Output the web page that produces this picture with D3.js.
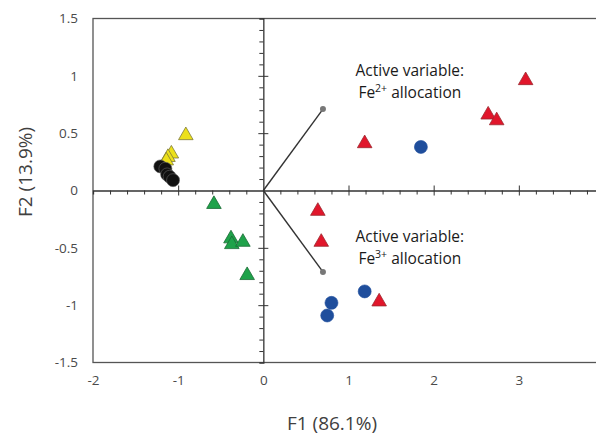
<!DOCTYPE html>
<html>
<head>
<meta charset="utf-8">
<script src="https://cdn.jsdelivr.net/npm/d3@7"></script>
<style>
  body { margin: 0; background: #fff; }
  svg { display: block; font-family: "Open Sans", "Liberation Sans", sans-serif; }
</style>
</head>
<body>
<div id="chart"></div>
<script>
// PCA scores, [F1, F2]
var yellowPts = [[-0.91, 0.48], [-1.08, 0.32], [-1.12, 0.29], [-1.14, 0.26]];
var blackPts = [[-1.21, 0.21], [-1.15, 0.19], [-1.13, 0.14], [-1.10, 0.12], [-1.06, 0.09]];
var greenPts = [[-0.58, -0.12], [-0.38, -0.42], [-0.37, -0.47], [-0.24, -0.45], [-0.19, -0.74]];
var redPts = [[3.08, 0.96], [2.64, 0.66], [2.74, 0.61], [1.19, 0.41], [0.64, -0.18], [0.68, -0.45], [1.36, -0.97]];
var bluePts = [[1.85, 0.38], [1.19, -0.88], [0.80, -0.98], [0.75, -1.09]];

// active variables (loadings)
var vectors = [[0.70, 0.71], [0.70, -0.71]];
var vectorLabels = [["Active variable:", "Fe", "2+", " allocation"], ["Active variable:", "Fe", "3+", " allocation"]];
var labelPos = [[1.72, 1.00], [1.72, -0.45]];

var xTicks = [-2, -1, 0, 1, 2, 3];
var yTicks = [-1.5, -1, -0.5, 0, 0.5, 1, 1.5];

var width = 596,
    height = 441;

var x = d3.scaleLinear().domain([-2, 4]).range([93, 604]);
var y = d3.scaleLinear().domain([-1.5, 1.5]).range([362.5, 18.5]);

var svg = d3.select("#chart").append("svg")
    .attr("width", width)
    .attr("height", height);

// frame
svg.append("rect")
    .attr("x", x(-2)).attr("y", y(1.5))
    .attr("width", x(4) - x(-2)).attr("height", y(-1.5) - y(1.5))
    .attr("fill", "none").attr("stroke", "#555").attr("stroke-width", 1.3);

// outer tick labels (plain hyphen like the original)
var fmt = function (d) { return String(d); };
var bottom = svg.append("g")
    .attr("transform", "translate(0," + y(-1.5) + ")")
    .call(d3.axisBottom(x).tickValues(xTicks).tickSize(0).tickPadding(13).tickFormat(fmt));
var left = svg.append("g")
    .attr("transform", "translate(" + x(-2) + ",0)")
    .call(d3.axisLeft(y).tickValues(yTicks).tickSize(0).tickPadding(15).tickFormat(fmt));
[bottom, left].forEach(function (g) {
    g.select(".domain").remove();
    g.selectAll("text").attr("font-size", 13.5).attr("fill", "#4a4a4a")
        .attr("font-family", "'Open Sans', sans-serif");
});

// zero lines with minor ticks
var zx = svg.append("g").attr("transform", "translate(0," + y(0) + ")");
zx.call(d3.axisBottom(x).tickValues(d3.range(-1.8, 4, 0.2).filter(function (d) { return Math.abs(d - Math.round(d)) > 0.01; }))
    .tickSize(4).tickFormat(""));
zx.append("g").call(d3.axisBottom(x).tickValues([-1, 1, 2, 3]).tickSize(10).tickFormat(""))
    .attr("transform", "translate(0,-5)").select(".domain").remove();

var zy = svg.append("g").attr("transform", "translate(" + x(0) + ",0)");
zy.call(d3.axisLeft(y).tickValues(d3.range(-1.4, 1.5, 0.1).filter(function (d) { return Math.abs(d * 2 - Math.round(d * 2)) > 0.01; }))
    .tickSize(4).tickFormat(""));
zy.append("g").call(d3.axisLeft(y).tickValues([-1, -0.5, 0.5, 1]).tickSize(10).tickFormat(""))
    .attr("transform", "translate(5,0)").select(".domain").remove();

svg.selectAll(".domain").attr("stroke", "#333").attr("stroke-width", 1.3);
zx.selectAll("line").attr("stroke", "#333");
zy.selectAll("line").attr("stroke", "#333");

// loading vectors
svg.selectAll(".vec")
    .data(vectors)
    .enter().append("line")
    .attr("x1", x(0)).attr("y1", y(0))
    .attr("x2", function (d) { return x(d[0]); })
    .attr("y2", function (d) { return y(d[1]); })
    .attr("stroke", "#333").attr("stroke-width", 1.4);
svg.selectAll(".vecEnd")
    .data(vectors)
    .enter().append("circle")
    .attr("cx", function (d) { return x(d[0]); })
    .attr("cy", function (d) { return y(d[1]); })
    .attr("r", 3).attr("fill", "#777");

var tri = d3.symbol().type(d3.symbolTriangle).size(92);

function triangles(data, fill, stroke) {
    svg.append("g").selectAll("path")
        .data(data)
        .enter().append("path")
        .attr("d", tri)
        .attr("transform", function (d) { return "translate(" + x(d[0]) + "," + y(d[1]) + ")"; })
        .attr("fill", fill).attr("stroke", stroke).attr("stroke-width", 0.8);
}

function dots(data, fill, stroke) {
    svg.append("g").selectAll("circle")
        .data(data)
        .enter().append("circle")
        .attr("cx", function (d) { return x(d[0]); })
        .attr("cy", function (d) { return y(d[1]); })
        .attr("r", 6.5)
        .attr("fill", fill).attr("stroke", stroke).attr("stroke-width", 0.6);
}

triangles(yellowPts, "#ECE01A", "#7d7a3a");
dots(blackPts, "#111", "#666");
triangles(greenPts, "#1FA24A", "#1a6b35");
triangles(redPts, "#E1162B", "#9a2a30");
dots(bluePts, "#1F4E9C", "#1F4E9C");

// variable labels
vectorLabels.forEach(function (lab, i) {
    var g = svg.append("g").attr("fill", "#1a1a1a").attr("font-size", 15.5).attr("text-anchor", "middle");
    g.append("text").attr("x", x(labelPos[i][0])).attr("y", y(labelPos[i][1])).text(lab[0]);
    var t = g.append("text").attr("x", x(labelPos[i][0])).attr("y", y(labelPos[i][1]) + 22);
    t.append("tspan").text(lab[1]);
    t.append("tspan").attr("font-size", 10.5).attr("dy", -6).text(lab[2]);
    t.append("tspan").attr("dy", 6).text(lab[3]);
});

// axis titles
svg.append("text")
    .attr("x", 332).attr("y", 430)
    .attr("text-anchor", "middle").attr("font-size", 19).attr("fill", "#404040")
    .text("F1 (86.1%)");
svg.append("text")
    .attr("transform", "translate(32,172) rotate(-90)")
    .attr("text-anchor", "middle").attr("font-size", 19).attr("fill", "#404040")
    .text("F2 (13.9%)");
</script>
</body>
</html>
